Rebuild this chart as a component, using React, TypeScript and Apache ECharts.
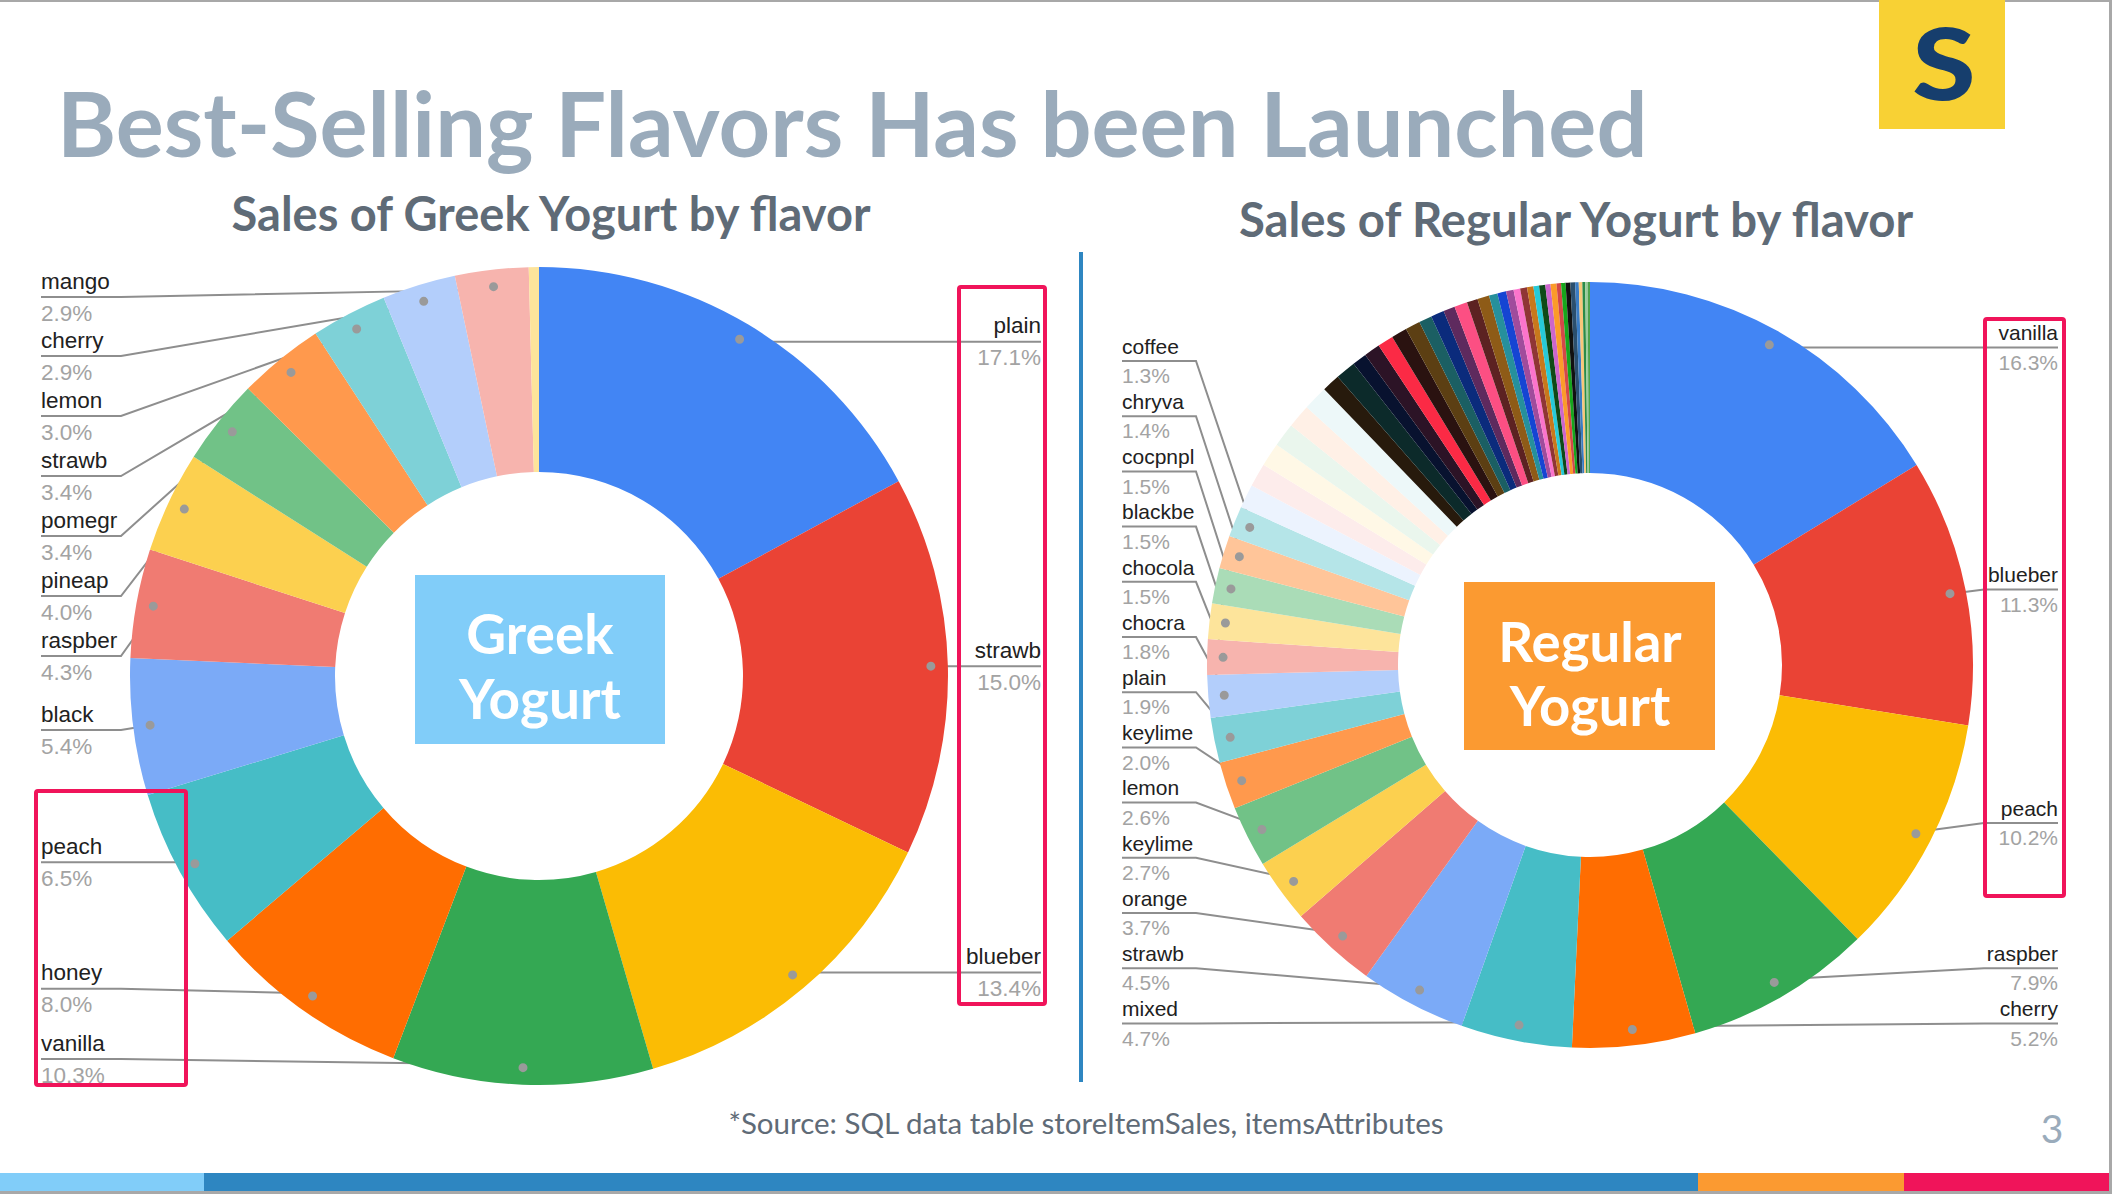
import React, { useEffect, useRef } from 'react';
import * as echarts from 'echarts';

const W = 2112;
const H = 1194;

// ---------- Data ----------
const greekFlavors = ['plain', 'strawb', 'blueber', 'vanilla', 'honey', 'peach', 'black', 'raspber', 'pineap', 'pomegr', 'strawb', 'lemon', 'cherry', 'mango'];
const greekShares = [17.1, 15.0, 13.4, 10.3, 8.0, 6.5, 5.4, 4.3, 4.0, 3.4, 3.4, 3.0, 2.9, 2.9];
const greekColors = ['#4285f4', '#ea4335', '#fbbc04', '#34a853', '#ff6d01', '#46bdc6', '#7baaf7', '#f07b72', '#fcd04f', '#71c287', '#ff994d', '#7ed1d7', '#b3cefb', '#f7b4ae'];
const greekMinorShares = [0.4];
const greekMinorColors = ['#fde49b'];

const regularFlavors = ['vanilla', 'blueber', 'peach', 'raspber', 'cherry', 'mixed', 'strawb', 'orange', 'keylime', 'lemon', 'keylime', 'plain', 'chocra', 'chocola', 'blackbe', 'cocpnpl', 'chryva', 'coffee'];
const regularShares = [16.3, 11.3, 10.2, 7.9, 5.2, 4.7, 4.5, 3.7, 2.7, 2.6, 2.0, 1.9, 1.8, 1.5, 1.5, 1.5, 1.4, 1.3];
const regularColors = ['#4285f4', '#ea4335', '#fbbc04', '#34a853', '#ff6d01', '#46bdc6', '#7baaf7', '#f07b72', '#fcd04f', '#71c287', '#ff994d', '#7ed1d7', '#b3cefb', '#f7b4ae', '#fde49b', '#aadcb7', '#ffc599', '#b5e5e8'];
const regularMinorShares = [
  1.0, 1.0, 1.0, 1.0, 1.0, 1.05,
  0.76, 0.86, 0.61, 0.68, 0.67, 0.66, 0.63, 0.55, 0.56, 0.49, 0.55, 0.46, 0.5, 0.36, 0.37, 0.32,
  0.28, 0.29, 0.27, 0.24, 0.26, 0.22, 0.25, 0.19, 0.19, 0.2, 0.2, 0.15, 0.15, 0.12, 0.1, 0.1,
];
const regularMinorColors = [
  '#ecf3fe', '#fdeceb', '#fff8e6', '#eaf6ed', '#fff0e6', '#edf8f9',
  '#271a0c', '#0c2a2a', '#08122f', '#2c1326', '#fb2a45', '#2a1210', '#5c3f13', '#1b5f63', '#0b2b7c', '#5e2a5e', '#fc4f83', '#5c2222', '#8e5b17', '#26909c', '#1545d3', '#a04c9c',
  '#fb74cc', '#8f3535', '#c8781c', '#27cad8', '#0f4a17', '#cc66cc', '#fb9b2a', '#d44848', '#16a61c', '#111111', '#2b4f6e', '#3a7cc4', '#f9c77a', '#2b8b48', '#9ccc9c', '#4ea24e',
];

const pageTitle = 'Best-Selling Flavors Has been Launched';
const greekTitle = 'Sales of Greek Yogurt by flavor';
const regularTitle = 'Sales of Regular Yogurt by flavor';
const footerText = '*Source: SQL data table storeItemSales, itemsAttributes';
const pageNumber = '3';

// ---------- Helpers ----------
type Item = { name: string; value: number; color: string; labeled: boolean };

function buildItems(names: string[], values: number[], colors: string[], minorValues: number[], minorColors: string[]): Item[] {
  const a = names.map((n, i) => ({ name: n, value: values[i], color: colors[i], labeled: true }));
  const b = minorValues.map((v, i) => ({ name: 'minor' + i, value: v, color: minorColors[i], labeled: false }));
  return [...a, ...b];
}

type Donut = {
  cx: number; cy: number; r0: number; r: number; dotR: number;
  font: number; lh: number; bend: number;
  view: { left: number; top: number; width: number; height: number };
};

const LABEL_FONT = "'Liberation Sans', Arial, Helvetica, sans-serif";
const LATO = "Lato, 'Open Sans', sans-serif";
const LINE_GRAY = '#8e8e8e';
const DOT_GRAY = '#9a9a9a';

function makeLayout(bend: number) {
  return (p: any) => {
    const pts = p.labelLinePoints;
    const rect = p.labelRect;
    if (!pts || !pts.length || !rect) return {};
    const y = rect.y + rect.height / 2;
    const onLeft = p.align === 'left';
    const edge = onLeft ? rect.x : rect.x + rect.width;
    const bx = onLeft ? edge + bend : edge - bend;
    return { labelLinePoints: [[pts[0][0], pts[0][1]], [bx, y], [edge, y]] };
  };
}

function donutSeries(items: Item[], d: Donut) {
  const base = {
    type: 'pie',
    startAngle: 90,
    clockwise: true,
    silent: true,
    emphasis: { disabled: true },
  };
  const visible = {
    ...base,
    center: [d.cx, d.cy],
    radius: [d.r0, d.r],
    avoidLabelOverlap: false,
    label: { show: false },
    labelLine: { show: false },
    data: items.map((it) => ({ name: it.name, value: it.value, itemStyle: { color: it.color } })),
  };
  const labels = {
    ...base,
    left: d.view.left,
    top: d.view.top,
    width: d.view.width,
    height: d.view.height,
    center: [d.cx - d.view.left, d.cy - d.view.top],
    radius: [d.dotR - 1, d.dotR],
    avoidLabelOverlap: true,
    itemStyle: { color: 'rgba(0,0,0,0)' },
    label: {
      show: true,
      position: 'outside',
      alignTo: 'edge',
      edgeDistance: 0,
      distanceToLabelLine: 0,
      backgroundColor: 'rgba(255,255,255,0)',
      padding: [-3, 0, -3, 0],
      formatter: (p: any) => `{n|${p.name}}\n{v|${Number(p.value).toFixed(1)}%}`,
      rich: {
        n: { fontSize: d.font, lineHeight: d.lh, color: '#212121', fontFamily: LABEL_FONT },
        v: { fontSize: d.font, lineHeight: d.lh, color: '#a3a3a3', fontFamily: LABEL_FONT },
      },
    },
    labelLine: { show: true, length: 0, length2: 0, lineStyle: { color: LINE_GRAY, width: 2 } },
    labelLayout: makeLayout(d.bend),
    data: items.map((it) => ({
      name: it.name,
      value: it.value,
      label: { show: it.labeled },
      labelLine: { show: it.labeled },
    })),
  };
  const dots = {
    ...base,
    center: [d.cx, d.cy],
    radius: [2 * d.dotR - d.r, d.r],
    avoidLabelOverlap: false,
    itemStyle: { color: 'rgba(0,0,0,0)' },
    label: {
      show: true,
      position: 'inside',
      formatter: '{d|}',
      rich: { d: { width: 9, height: 9, borderRadius: 4.5, backgroundColor: DOT_GRAY } },
    },
    labelLine: { show: false },
    data: items.map((it) => ({ name: it.name, value: it.value, label: { show: it.labeled } })),
  };
  return [visible, labels, dots];
}

function latoText(text: string, x: number, baseline: number, size: number, color: string, weight: any, align = 'center', extra: any = {}) {
  return {
    type: 'text',
    x,
    y: baseline - 0.41 * size,
    z: 5,
    ...extra,
    style: {
      text,
      fontFamily: LATO,
      fontSize: size,
      fontWeight: weight,
      lineHeight: size,
      fill: color,
      align,
      textAlign: align,
      verticalAlign: 'middle',
      textVerticalAlign: 'middle',
    },
  };
}

function rect(x: number, y: number, w: number, h: number, fill: string, z = 1) {
  return { type: 'rect', z, shape: { x, y, width: w, height: h }, style: { fill } };
}

function box(x: number, y: number, w: number, h: number) {
  return {
    type: 'rect',
    z: 20,
    shape: { x, y, width: w, height: h, r: 2 },
    style: { fill: 'none', stroke: '#f0145a', lineWidth: 4 },
  };
}

export default function App() {
  const ref = useRef<HTMLDivElement>(null);

  useEffect(() => {
    if (!ref.current) return;
    const chart = echarts.init(ref.current, undefined, { renderer: 'svg', width: W, height: H });

    const greekItems = buildItems(greekFlavors, greekShares, greekColors, greekMinorShares, greekMinorColors);
    const regularItems = buildItems(regularFlavors, regularShares, regularColors, regularMinorShares, regularMinorColors);

    const greek: Donut = {
      cx: 539, cy: 676, r0: 204, r: 409, dotR: 389,
      font: 22.5, lh: 32, bend: 80,
      view: { left: 41, top: 266, width: 1000, height: 823 },
    };
    const regular: Donut = {
      cx: 1590, cy: 665, r0: 192, r: 383, dotR: 364,
      font: 21, lh: 29.6, bend: 74,
      view: { left: 1122, top: 300, width: 936, height: 751 },
    };

    const option: any = {
      animation: false,
      backgroundColor: '#ffffff',
      series: [...donutSeries(greekItems, greek), ...donutSeries(regularItems, regular)],
      graphic: [
        // frame
        rect(0, 0, W, 2, '#a8a8a8'),
        rect(W - 3, 0, 3, H, '#a8a8a8'),
        rect(0, H - 3, W, 3, '#a8a8a8'),
        // bottom colour bar
        rect(0, 1173, 204, 18, '#81cdf9'),
        rect(204, 1173, 1494, 18, '#2e86c1'),
        rect(1698, 1173, 206, 18, '#fb9a31'),
        rect(1904, 1173, 205, 18, '#f0145a'),
        // logo
        rect(1879, 0, 126, 129, '#f8d134'),
        latoText('S', 1944, 102, 100, '#163e6d', 900, 'center', { scaleX: 1.15 }),
        // titles
        latoText(pageTitle, 57, 159, 90, '#9aabbb', 'bold', 'left'),
        latoText(greekTitle, 551, 232, 47, '#5f6b77', 'bold'),
        latoText(regularTitle, 1576, 238, 47.3, '#5f6b77', 'bold'),
        // divider
        rect(1079, 252, 4, 830, '#2e86c1'),
        // centre tags
        rect(415, 575, 250, 169, '#81cdf9', 3),
        latoText('Greek', 540, 656, 55, '#ffffff', 'bold'),
        latoText('Yogurt', 540, 721, 55, '#ffffff', 'bold'),
        rect(1464, 582, 251, 168, '#fb9a31', 3),
        latoText('Regular', 1590, 663, 54.5, '#ffffff', 'bold'),
        latoText('Yogurt', 1590, 727, 54.5, '#ffffff', 'bold'),
        // highlight boxes
        box(36, 791, 150, 294),
        box(959, 287, 86, 717),
        box(1985, 319, 79, 577),
        // footer
        latoText(footerText, 1086, 1135, 29.5, '#5f6b77', 'normal'),
        latoText(pageNumber, 2052, 1144, 39, '#9aabbb', 'normal'),
      ],
    };

    chart.setOption(option);
    return () => chart.dispose();
  }, []);

  return (
    <div
      ref={ref}
      style={{ position: 'fixed', left: 0, top: 0, width: W, height: H, background: '#fff' }}
    />
  );
}
